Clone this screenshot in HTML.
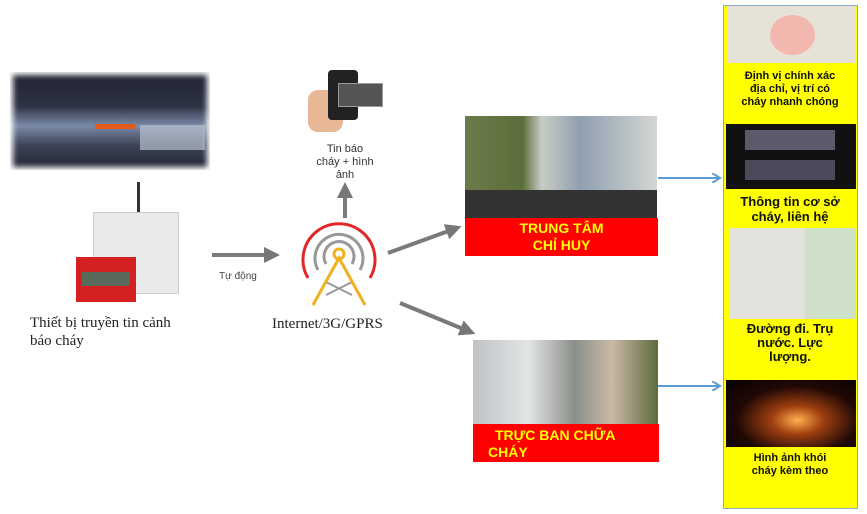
<!DOCTYPE html>
<html><head><meta charset="utf-8"><style>
body{margin:0;width:867px;height:514px;background:#fff;position:relative;overflow:hidden;font-family:"Liberation Sans",sans-serif}
.a{position:absolute}
.red{background:#f00;color:#ff0;font-weight:bold;font-size:14px;text-align:center;line-height:17px}
.yt{position:absolute;left:723px;width:134px;text-align:center;font-weight:bold;color:#111}
</style></head><body>
<!-- fire photo -->
<div class="a" style="left:10px;top:72px;width:200px;height:98px;background:linear-gradient(180deg,#1f2230 0%,#2e3344 35%,#7a8aa8 55%,#3c4456 75%,#1e2230 100%);box-shadow:0 0 6px 3px #fff inset"></div>
<div class="a" style="left:95px;top:124px;width:40px;height:5px;background:#e25a1c"></div>
<div class="a" style="left:140px;top:125px;width:65px;height:25px;background:#b9c2cf;opacity:.7"></div>
<!-- device -->
<div class="a" style="left:137px;top:182px;width:3px;height:32px;background:#333"></div>
<div class="a" style="left:93px;top:212px;width:84px;height:80px;background:#e9eaec;border:1px solid #ccc"></div>
<div class="a" style="left:76px;top:257px;width:60px;height:45px;background:#d42020"></div>
<div class="a" style="left:82px;top:272px;width:48px;height:14px;background:#5a6a5a"></div>
<div class="a" style="left:30px;top:314px;font-family:'Liberation Serif',serif;font-size:15px;line-height:18px;color:#222">Thiết bị truyền tin cảnh<br>báo cháy</div>
<div class="a" style="left:219px;top:271px;font-size:10px;color:#444">Tự động</div>
<!-- phone -->
<div class="a" style="left:308px;top:90px;width:35px;height:42px;background:#e8b896;border-radius:10px"></div>
<div class="a" style="left:328px;top:70px;width:30px;height:50px;background:#222;border-radius:4px"></div>
<div class="a" style="left:338px;top:83px;width:43px;height:22px;background:#555;border:1px solid #999"></div>
<div class="a" style="left:305px;top:143px;width:80px;text-align:center;font-size:11px;line-height:13px;color:#333">Tin báo<br>cháy + hình<br>ảnh</div>
<div class="a" style="left:272px;top:316px;font-family:'Liberation Serif',serif;font-size:15px;color:#222">Internet/3G/GPRS</div>
<svg class="a" style="left:0;top:0" width="867" height="514">
<defs><marker id="g" markerWidth="4" markerHeight="4" refX="2" refY="2" orient="auto"><path d="M0,0L4,2L0,4z" fill="#777"/></marker>
<marker id="b" markerWidth="5" markerHeight="5" refX="3" refY="2.5" orient="auto"><path d="M0,0L4,2.5L0,5" fill="none" stroke="#5b9bd5" stroke-width="1"/></marker></defs>
<g stroke="#7a7a7a" stroke-width="4" fill="none">
<line x1="212" y1="255" x2="272" y2="255" marker-end="url(#g)"/>
<line x1="345" y1="218" x2="345" y2="190" marker-end="url(#g)"/>
<line x1="388" y1="253" x2="454" y2="229" marker-end="url(#g)"/>
<line x1="400" y1="303" x2="468" y2="331" marker-end="url(#g)"/>
</g>
<g stroke="#5b9bd5" stroke-width="2" fill="none">
<line x1="658" y1="178" x2="718" y2="178" marker-end="url(#b)"/>
<line x1="658" y1="386" x2="718" y2="386" marker-end="url(#b)"/>
</g>
<g fill="none" stroke-width="3">
<path d="M308,278 A36,36 0 1 1 370,278" stroke="#e02828"/>
<path d="M318,270 A24,24 0 1 1 360,270" stroke="#999"/>
<path d="M326,264 A15,15 0 1 1 352,264" stroke="#999"/>
<path d="M326,282 L352,295 M352,282 L326,295" stroke="#999" stroke-width="2"/>
<path d="M313,305 L339,258 L365,305" stroke="#f0b020"/>
<circle cx="339" cy="254" r="5" stroke="#f0b020"/>
</g>
</svg>
<!-- top center -->
<div class="a" style="left:465px;top:116px;width:192px;height:102px;background:linear-gradient(90deg,#6b7a4a 0%,#5c6e3a 30%,#c9ccc6 40%,#8fa0b0 60%,#d4d6d2 100%)"></div>
<div class="a" style="left:465px;top:190px;width:192px;height:28px;background:#333"></div>
<div class="a red" style="left:465px;top:218px;width:193px;height:38px;padding-top:2px;box-sizing:border-box">TRUNG TÂM<br>CHỈ HUY</div>
<div class="a" style="left:473px;top:340px;width:185px;height:84px;background:linear-gradient(90deg,#bfc3c5 0%,#e3e5e6 30%,#8b8f8a 55%,#c8b9a6 75%,#5e6a3d 100%)"></div>
<div class="a red" style="left:473px;top:424px;width:186px;height:38px;text-align:left;padding:3px 0 0 22px;box-sizing:border-box">TRỰC BAN CHỮA<br><span style="margin-left:-7px">CHÁY</span></div>
<!-- right column -->
<div class="a" style="left:723px;top:5px;width:133px;height:502px;background:#ffff00;border:1px solid #8fa8c8"></div>
<div class="a" style="left:727px;top:6px;width:128px;height:57px;background:#e6e2d8"></div>
<div class="a" style="left:770px;top:15px;width:45px;height:40px;border-radius:50%;background:#f2b8b0"></div>
<div class="yt" style="top:70px;font-size:11px;line-height:13px">Định vị chính xác<br>địa chỉ, vị trí có<br>cháy nhanh chóng</div>
<div class="a" style="left:726px;top:124px;width:130px;height:65px;background:#111"></div>
<div class="a" style="left:745px;top:130px;width:90px;height:20px;background:#5a5a6a"></div>
<div class="a" style="left:745px;top:160px;width:90px;height:20px;background:#4a4a5a"></div>
<div class="yt" style="top:194px;font-size:13px;line-height:15px">Thông tin cơ sở<br>cháy, liên hệ</div>
<div class="a" style="left:730px;top:228px;width:126px;height:91px;background:#e4e2dc"></div>
<div class="a" style="left:805px;top:228px;width:51px;height:91px;background:#cfe0c8"></div>
<div class="yt" style="top:322px;font-size:13px;line-height:14px">Đường đi. Trụ<br>nước. Lực<br>lượng.</div>
<div class="a" style="left:726px;top:380px;width:130px;height:67px;background:radial-gradient(ellipse at 55% 60%,#ffb050 0%,#a04010 25%,#200804 60%,#050200 100%)"></div>
<div class="yt" style="top:452px;font-size:11px;line-height:13px">Hình ảnh khói<br>cháy kèm theo</div>
</body></html>
